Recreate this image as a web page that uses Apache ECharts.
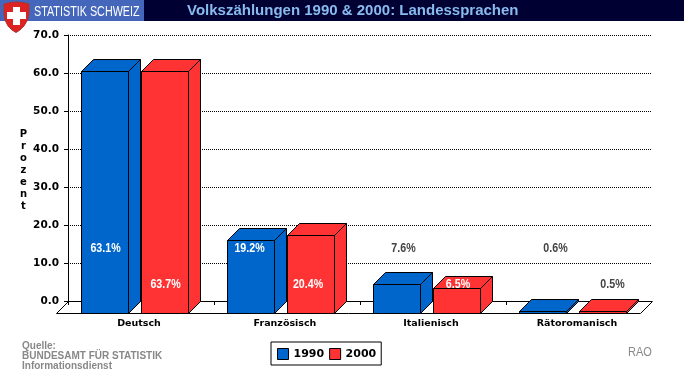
<!DOCTYPE html>
<html><head><meta charset="utf-8">
<style>html,body{margin:0;padding:0;background:#fff}#c{width:684px;height:375px}</style>
<script src="https://cdn.jsdelivr.net/npm/echarts@6/dist/echarts.min.js"></script>
</head><body><div id="c"></div>
<script>
const categories = ['Deutsch','Französisch','Italienisch','Rätoromanisch'];
const values1990 = [63.6,19.2,7.6,0.6];
const values2000 = [63.6,20.5,6.6,0.6];
const labels1990 = ['63.1%','19.2%','7.6%','0.6%'];
const labels2000 = ['63.7%','20.4%','6.5%','0.5%'];
const yTicks = [0,10,20,30,40,50,60,70];

const DEPTH = 12;
const BLUE = '#0066CC', RED = '#FF3333';
const barLayout = {'1990':{from:-60,to:-13,labelY:-52.5,labelDx:[-35.5,-37.5,-29.5,-23.5]},
                   '2000':{from:0,to:47,labelY:-17,labelDx:[24.5,21,25,33.5]}};
const px = v => Math.round(v) + 0.5;
const stroke = {stroke:'#000',lineWidth:1};

function bar3d(name, color, texts){
  return function(params, api){
    const i = api.value(0), v = api.value(1), L = barLayout[name];
    const base = api.coord([i,0]), top = api.coord([i,v]);
    const cx = base[0];
    const x0 = px(cx+L.from), x1 = px(cx+L.to);
    const y1 = px(base[1]+DEPTH), y0 = px(top[1]+DEPTH);
    const d = DEPTH;
    const st = {fill:color,...stroke};
    const labelY = base[1]+L.labelY;
    const onBar = (y0-d) < labelY;
    const text = texts[i];
    return {type:'group',children:[
      {type:'polygon',shape:{points:[[x1,y0],[x1+d,y0-d],[x1+d,y1-d],[x1,y1]]},style:st},
      {type:'polygon',shape:{points:[[x0,y0],[x0+d,y0-d],[x1+d,y0-d],[x1,y0]]},style:st},
      {type:'rect',shape:{x:x0,y:y0,width:x1-x0,height:y1-y0},style:st},
      {type:'text',x:cx+L.labelDx[i],y:labelY,scaleX:0.82,z2:50,style:{
        text, align:'center', verticalAlign:'middle',
        font:'bold 13px "Liberation Sans",sans-serif',
        fill:onBar?'#fff':'#444',
        shadowColor:onBar?'#333':'#bbb', shadowBlur:2, shadowOffsetX:0,shadowOffsetY:0
      }}
    ]};
  };
}
function floor(params, api){
  const c = params.coordSys, i = api.value(0), d = DEPTH;
  const yb = c.y+c.height, xl = c.x, xr = c.x+c.width;
  const t = api.coord([i,0]);
  const band = api.size([1,0])[0];
  const tx = px(t[0]-band/2);
  const kids = [{type:'line',shape:{x1:tx,y1:yb,x2:tx,y2:yb+4},style:{stroke:'#000',lineWidth:1}}];
  if(i===0) kids.push({type:'polyline',shape:{points:[[xl+.5,yb+.5],[xl-d+.5,yb+d+.5],[xr-d+.5,yb+d+.5],[xr+.5,yb+.5]]},style:{stroke:'#000',lineWidth:1,fill:null}});
  return {type:'group',children:kids};
}

const chart = echarts.init(document.getElementById('c'),null,{renderer:'canvas'});
chart.setOption({
  animation:false,
  backgroundColor:'#fff',
  title:{text:'Volkszählungen 1990 & 2000: Landessprachen',left:187,top:3,padding:0,
    textStyle:{color:'#88BBEE',fontFamily:'"Liberation Sans",sans-serif',fontWeight:'bold',fontSize:15}},
  legend:{left:271,top:342,width:110,itemWidth:11,itemHeight:11,itemGap:5,padding:[6,5,5,6],
    borderColor:'#000',borderWidth:1,selectedMode:false,
    textStyle:{color:'#000',fontFamily:'"DejaVu Sans",sans-serif',fontWeight:'bold',fontSize:11},
    data:[{name:'1990',icon:'rect',itemStyle:{color:BLUE,borderColor:'#000',borderWidth:1}},
          {name:'2000',icon:'rect',itemStyle:{color:RED,borderColor:'#000',borderWidth:1}}]},
  grid:{left:68,top:35,width:584,height:266,containLabel:false},
  xAxis:{type:'category',data:categories,
    axisLine:{lineStyle:{color:'#000',width:1}},axisTick:{show:false},
    axisLabel:{color:'#000',margin:18,padding:[0,4,0,0],interval:0,
      fontFamily:'"DejaVu Sans",sans-serif',fontWeight:'bold',fontSize:9.5}},
  yAxis:{type:'value',min:0,max:70,interval:10,
    axisLine:{show:true,lineStyle:{color:'#000',width:1}},
    axisTick:{show:true,length:4,lineStyle:{color:'#000'}},
    axisLabel:{color:'#000',margin:9,formatter:v=>v.toFixed(1),
      fontFamily:'"DejaVu Sans",sans-serif',fontWeight:'bold',fontSize:10.5},
    splitLine:{show:true,lineStyle:{color:'#000',type:[1,1],width:1}}},
  graphic:[
    {type:'rect',silent:true,z:-1,shape:{x:0,y:0,width:684,height:21},style:{fill:'#000033'}},
    {type:'rect',silent:true,z:-1,shape:{x:0,y:0,width:144,height:21},style:{fill:'#4466BB'}},
    {type:'polygon',silent:true,z:10,shape:{points:[[4,4],[10,2.5],[16,2],[23,2.5],[29,4],[29,13],[27.5,20],[24,26],[20,30],[16,32.5],[12,30],[8,26],[5,20],[4,13]]},
      style:{fill:'#DD2222',stroke:'#AA3333',lineWidth:1}},
    {type:'rect',silent:true,z:11,shape:{x:13,y:7,width:7,height:18},style:{fill:'#fff'}},
    {type:'rect',silent:true,z:11,shape:{x:7,y:12,width:19,height:7},style:{fill:'#fff'}},
    {type:'text',silent:true,z:11,x:34,y:5,scaleX:0.77,style:{text:'STATISTIK SCHWEIZ',fill:'#fff',
      font:'14px "Liberation Sans",sans-serif'}},
    {type:'text',silent:true,x:23.5,y:128,style:{text:'P\nr\no\nz\ne\nn\nt',fill:'#000',align:'center',
      lineHeight:12,font:'bold 10px "DejaVu Sans",sans-serif'}},
    {type:'text',silent:true,x:22,y:341,style:{text:'Quelle:\nBUNDESAMT FÜR STATISTIK\nInformationsdienst',fill:'#888',
      lineHeight:10,font:'bold 10px "Liberation Sans",sans-serif'}},
    {type:'text',silent:true,x:628,y:346,scaleX:0.85,style:{text:'RAO',fill:'#888',font:'13px "Liberation Sans",sans-serif'}}
  ],
  series:[
    {type:'custom',name:'floor',silent:true,clip:false,z:1,renderItem:floor,data:categories.map((c,i)=>[i]),encode:{x:0},tooltip:{show:false}},
    {type:'custom',name:'1990',clip:false,z:3,itemStyle:{color:BLUE},renderItem:bar3d('1990',BLUE,labels1990),data:values1990.map((v,i)=>[i,v]),encode:{x:0,y:1}},
    {type:'custom',name:'2000',clip:false,z:3,itemStyle:{color:RED},renderItem:bar3d('2000',RED,labels2000),data:values2000.map((v,i)=>[i,v]),encode:{x:0,y:1}}
  ]
});
</script></body></html>
